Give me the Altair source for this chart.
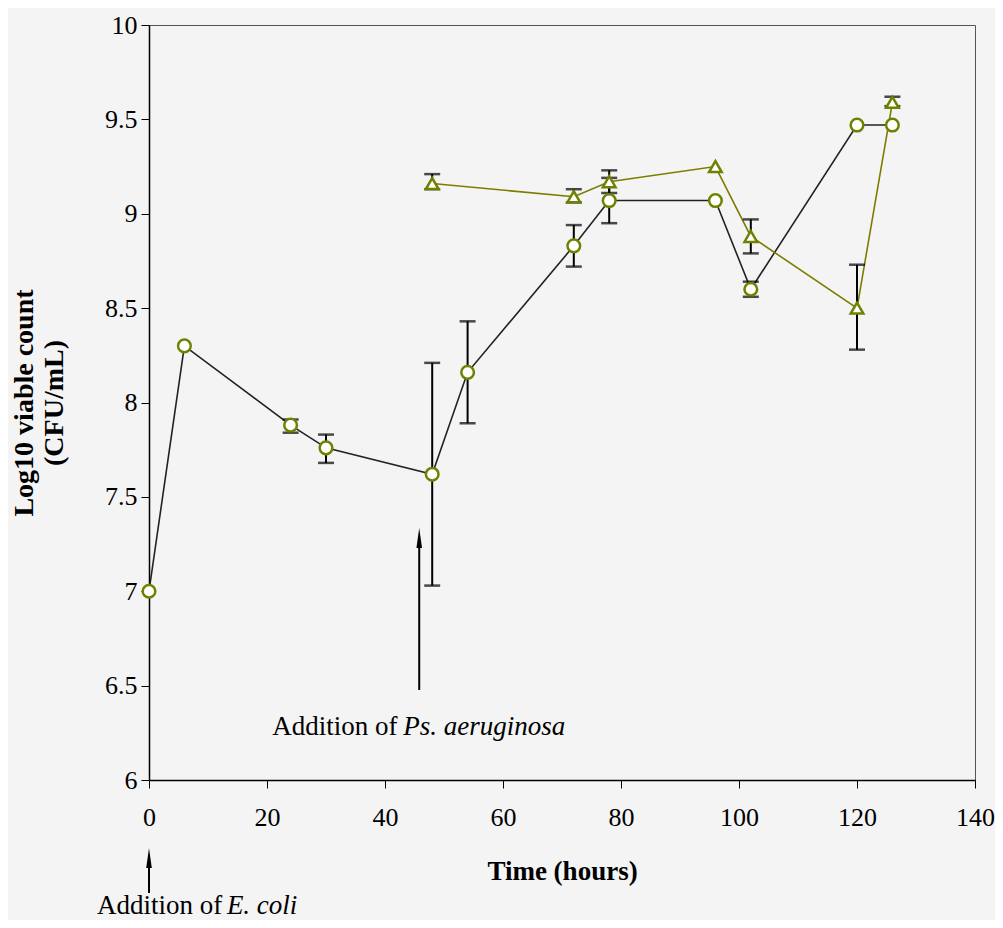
import altair as alt
import pandas as pd

# ---- data ----
circ_t = [0, 6, 24, 30, 48, 54, 72, 78, 96, 102, 120, 126]
circ_y = [7.00, 8.30, 7.88, 7.76, 7.62, 8.16, 8.83, 9.07, 9.07, 8.60, 9.47, 9.47]

circ_err_t = [24, 30, 48, 54, 72, 78, 102]
circ_lo = [7.84, 7.68, 7.03, 7.89, 8.72, 8.95, 8.56]
circ_hi = [7.91, 7.83, 8.21, 8.43, 8.94, 9.19, 8.64]

tri_t = [48, 72, 78, 96, 102, 120, 126]
tri_y = [9.16, 9.09, 9.17, 9.25, 8.88, 8.50, 9.59]

tri_err_t = [48, 72, 78, 102, 120, 126]
tri_lo = [9.13, 9.06, 9.11, 8.79, 8.28, 9.57]
tri_hi = [9.21, 9.13, 9.23, 8.97, 8.73, 9.62]

x_ticks = [0, 20, 40, 60, 80, 100, 120, 140]
y_ticks = [6, 6.5, 7, 7.5, 8, 8.5, 9, 9.5, 10]

# annotations (arrows + labels), in data units
arrow_x = [45.8, 0]
arrow_y0 = [6.477, 5.401]
arrow_y1 = [7.25, 5.56]
head_y = [7.282, 5.587]

lab_plain_x = [20.9, -8.8]
lab_plain_y = [6.238, 5.292]
lab_plain = ["Addition of", "Addition of"]
lab_ital_x = [43.1, 13.2]
lab_ital = ["Ps. aeruginosa", "E. coli"]

FONT = "Liberation Serif"
OLIVE = "#6f8200"

circ = pd.DataFrame({"t": circ_t, "y": circ_y})
tri = pd.DataFrame({"t": tri_t, "y": tri_y})
err = pd.DataFrame({
    "t": circ_err_t + tri_err_t,
    "lo": circ_lo + tri_lo,
    "hi": circ_hi + tri_hi,
})
arrows = pd.DataFrame({"x": arrow_x, "y0": arrow_y0, "y1": arrow_y1, "hy": head_y})
labs = pd.DataFrame({"px": lab_plain_x, "py": lab_plain_y, "ptxt": lab_plain,
                     "ix": lab_ital_x, "itxt": lab_ital})

xs = alt.Scale(domain=[0, 140], nice=False)
ys = alt.Scale(domain=[6, 10], nice=False, zero=False)

xax = alt.Axis(values=x_ticks, title="Time (hours)", grid=False,
               labelFont=FONT, labelFontSize=26, labelColor="black",
               titleFont=FONT, titleFontSize=27, titleFontWeight="bold", titleColor="black",
               tickSize=8, tickColor="black", domainColor="black", domainWidth=1.5,
               labelPadding=16, titlePadding=28, labelFlush=False)
yax = alt.Axis(values=y_ticks, format=".1~f", title=["Log10 viable count", "(CFU/mL)"],
               grid=False, labelFont=FONT, labelFontSize=26, labelColor="black",
               titleFont=FONT, titleFontSize=28, titleFontWeight="bold", titleColor="black",
               tickSize=8, tickColor="black", domainColor="black", domainWidth=1.5,
               labelPadding=4, titlePadding=36, labelFlush=False)

X = alt.X("t:Q", scale=xs, axis=xax)
Y = alt.Y("y:Q", scale=ys, axis=yax)

circ_line = alt.Chart(circ).mark_line(color="#222222", strokeWidth=1.6).encode(x=X, y=Y)
tri_line = alt.Chart(tri).mark_line(color="#7c7c00", strokeWidth=1.6).encode(x=X, y=Y)

err_rule = alt.Chart(err).mark_rule(color="black", strokeWidth=2).encode(
    x=alt.X("t:Q", scale=xs), y=alt.Y("lo:Q", scale=ys), y2="hi:Q")
cap_lo = alt.Chart(err).mark_tick(color="black", orient="horizontal", size=16,
                                  thickness=2.5).encode(
    x=alt.X("t:Q", scale=xs), y=alt.Y("lo:Q", scale=ys))
cap_hi = alt.Chart(err).mark_tick(color="black", orient="horizontal", size=16,
                                  thickness=2.5).encode(
    x=alt.X("t:Q", scale=xs), y=alt.Y("hi:Q", scale=ys))

circ_pts = alt.Chart(circ).mark_point(shape="circle", filled=True, fill="white",
                                      stroke=OLIVE, strokeWidth=2.5, size=160,
                                      opacity=1).encode(x=X, y=Y)
tri_pts = alt.Chart(tri).mark_point(shape="triangle-up", filled=True, fill="white",
                                    stroke=OLIVE, strokeWidth=2.5, size=160,
                                    opacity=1).encode(x=X, y=Y)

shaft = alt.Chart(arrows).mark_rule(color="black", strokeWidth=2).encode(
    x=alt.X("x:Q", scale=xs), y=alt.Y("y0:Q", scale=ys), y2="y1:Q")
head = alt.Chart(arrows).mark_point(shape="M0,-1L0.28,1L-0.28,1Z", filled=True,
                                    color="black", size=400, opacity=1).encode(
    x=alt.X("x:Q", scale=xs), y=alt.Y("hy:Q", scale=ys))

txt_plain = alt.Chart(labs).mark_text(font=FONT, fontSize=27, align="left",
                                      baseline="alphabetic", color="black").encode(
    x=alt.X("px:Q", scale=xs), y=alt.Y("py:Q", scale=ys), text="ptxt:N")
txt_ital = alt.Chart(labs).mark_text(font=FONT, fontSize=27, fontStyle="italic",
                                     align="left", baseline="alphabetic",
                                     color="black").encode(
    x=alt.X("ix:Q", scale=xs), y=alt.Y("py:Q", scale=ys), text="itxt:N")

chart = alt.layer(
    circ_line, tri_line, err_rule, cap_lo, cap_hi, circ_pts, tri_pts,
    shaft, head, txt_plain, txt_ital
).properties(
    width=826, height=755,
    autosize=alt.AutoSizeParams(type="none"),
    padding={"left": 141, "top": 17, "right": 20, "bottom": 140},
    background="#f4f4f4",
).configure_view(stroke="#555555", strokeWidth=1)

chart.save("out.html", embed_options={"renderer": "svg", "actions": False})
